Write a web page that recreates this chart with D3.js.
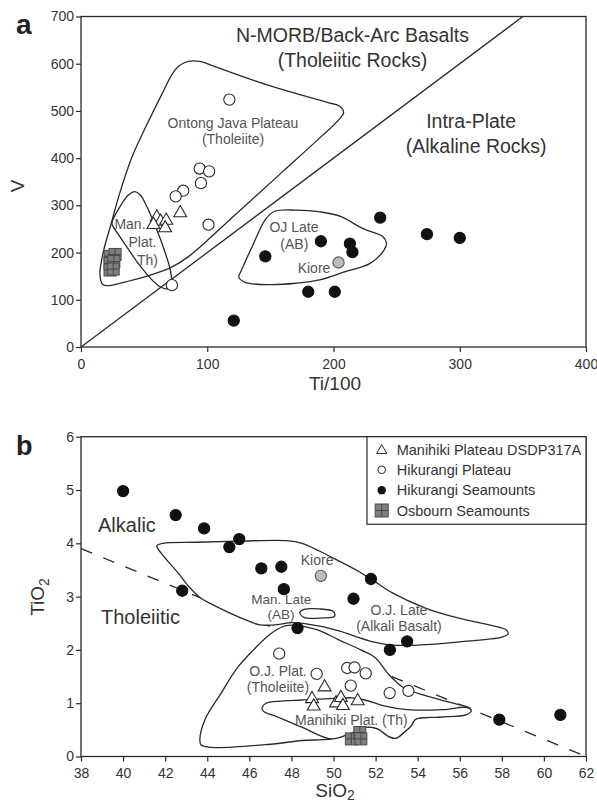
<!DOCTYPE html>
<html><head><meta charset="utf-8">
<script src="https://cdn.jsdelivr.net/npm/d3@7"></script>
<style>
body{margin:0;background:#fff;}
svg text{font-family:"Liberation Sans",Arial,Helvetica,sans-serif;}
</style></head><body>
<svg id="c" width="597" height="805"></svg>
<script>
// ---------- Panel a data (Ti/100 vs V) ----------
const aTicksX = [0,100,200,300,400];
const aTicksY = [0,100,200,300,400,500,600,700];
const aPlateau = [[117.5,524],[94,378],[101.5,372],[95,347],[81,331],[75,319],[101,259],[72,131]];
const aManihiki = [[60,277],[63,268],[67.5,270],[78.6,286],[57.4,261],[66.7,254]];
const aSeamounts = [[121,56],[146,192],[190,224],[213,219],[215,201],[237,274],[180,117],[201,117],[274,239],[300,231]];
const aOsbourn = [[23,192],[27,196],[23,177],[26,181],[23,163],[25.5,165]];
const aKiore = [[204,179]];
const aDiscrim = [[0,0],[350,700]];
const aFieldOJP = [[15,155],[17,133],[22,130],[40,141],[58,155],[71,168],[86,193],[120,275],[160,372],[190,445],[203,478],[208,496],[205,510],[195,518],[150,553],[110,590],[94,605],[85,605],[78,596],[72,577],[64,535],[52,470],[40,400],[30,320],[24,262],[18,205]];
const aFieldMan = [[42.5,329],[38,323],[31,298],[24.5,262],[25.5,255],[33,225],[44,182],[57,140],[63,127],[68,123],[71.5,130],[71,160],[66,205],[59,255],[52,298],[47,322]];
const aFieldOJLate = [[153,287],[170,290],[190,286],[205,277],[224,250],[239,234],[242,220],[240,205],[229,177],[210,160],[189,142],[170,135],[150,132],[130,137],[125,148],[127,162],[136,215],[146,270]];

// ---------- Panel b data (SiO2 vs TiO2) ----------
const bTicksX = [38,40,42,44,46,48,50,52,54,56,58,60,62];
const bTicksY = [0,1,2,3,4,5,6];
const bManihiki = [[49.58,1.32],[48.98,1.1],[49.06,0.96],[50.12,1.02],[50.35,1.12],[50.45,0.97],[51.15,1.06]];
const bPlateau = [[47.42,1.93],[49.2,1.55],[50.65,1.66],[51.0,1.67],[51.53,1.56],[50.82,1.33],[52.67,1.19],[53.56,1.23]];
const bSeamounts = [[40.0,4.98],[42.5,4.53],[43.85,4.28],[45.05,3.93],[45.52,4.08],[46.57,3.53],[47.52,3.56],[47.64,3.14],[42.81,3.11],[50.95,2.96],[51.78,3.33],[48.29,2.41],[52.68,2.0],[53.5,2.16],[57.88,0.69],[60.78,0.78]];
const bOsbourn = [[50.85,0.33],[51.25,0.45],[51.3,0.33]];
const bKiore = [[49.4,3.39]];
const bDivide = [[38,3.9],[62,0]];
const bFieldOJLate = [[41.6,3.95],[41.9,4.0],[43.5,4.02],[45.5,4.04],[47.8,4.05],[48.5,4.0],[49.3,3.86],[50.2,3.68],[51.2,3.47],[51.9,3.3],[52.8,3.07],[54.4,2.78],[56.0,2.59],[57.5,2.46],[58.2,2.38],[58.3,2.3],[58.0,2.24],[56.0,2.15],[54.0,2.09],[52.8,2.09],[52.0,2.14],[51.0,2.26],[50.3,2.35],[49.4,2.44],[48.1,2.51],[47.2,2.47],[46.5,2.47],[45.6,2.6],[44.3,2.84],[43.7,2.97],[43.1,3.2],[42.6,3.45],[41.8,3.82]];
const bFieldOJPlat = [[48.2,2.46],[49.2,2.38],[50.3,2.18],[51.3,2.0],[52.0,1.85],[52.6,1.55],[53.3,1.3],[54.3,1.15],[55.3,1.04],[56.2,0.95],[56.5,0.9],[56.3,0.8],[55.0,0.74],[53.9,0.7],[53.7,0.58],[53.4,0.47],[52.95,0.34],[52.6,0.38],[52.1,0.52],[51.6,0.55],[50.9,0.45],[49.9,0.33],[48.5,0.3],[47.0,0.23],[44.2,0.17],[43.7,0.22],[43.65,0.33],[43.9,0.7],[44.6,1.15],[45.4,1.65],[46.2,2.0],[47.0,2.3],[47.7,2.45]];
const bFieldManihiki = [[46.6,0.9],[46.8,1.0],[47.5,1.04],[48.5,1.06],[50.0,1.09],[50.9,1.1],[51.5,1.06],[52.4,0.95],[53.5,0.88],[55.2,0.88],[56.3,0.92],[56.55,0.86],[56.3,0.78],[55.0,0.74],[53.9,0.7],[53.7,0.58],[53.4,0.47],[52.95,0.34],[52.6,0.38],[52.1,0.52],[51.6,0.55],[50.9,0.45],[49.9,0.33],[48.5,0.55],[47.3,0.75],[46.7,0.84]];
const bFieldManLate = [[48.4,2.7],[48.6,2.76],[49.3,2.77],[50.0,2.72],[50.05,2.63],[49.5,2.6],[48.6,2.61]];

const legendLabels = ["Manihiki Plateau DSDP317A","Hikurangi Plateau","Hikurangi Seamounts","Osbourn Seamounts"];

// ---------- drawing ----------
const svg = d3.select("#c");
const ink = "#2a2a2a", txt = "#333", lab = "#555";

const xA = d3.scaleLinear().domain([0,400]).range([81,586]);
const yA = d3.scaleLinear().domain([0,700]).range([347,16.5]);
const xB = d3.scaleLinear().domain([38,62]).range([81,586]);
const yB = d3.scaleLinear().domain([0,6]).range([756.5,436.7]);

function frame(x,y,tx,ty){
  const g = svg.append("g");
  const ax = g.append("g").attr("transform",`translate(0,${y.range()[0]})`)
    .call(d3.axisBottom(x).tickValues(tx).tickSize(5).tickSizeOuter(0).tickPadding(7).tickFormat(d3.format("d")));
  const ay = g.append("g").attr("transform",`translate(${x.range()[0]},0)`)
    .call(d3.axisLeft(y).tickValues(ty).tickSize(5).tickSizeOuter(0).tickPadding(2).tickFormat(d3.format("d")));
  [ax,ay].forEach(a=>{
    a.select(".domain").remove();
    a.selectAll("line").attr("stroke",ink).attr("stroke-width",1.2);
    a.selectAll("text").attr("fill",txt).style("font-size","14px").style("font-family",'"Liberation Sans",Arial,sans-serif');
  });
  g.append("rect").attr("x",x.range()[0]).attr("y",y.range()[1])
    .attr("width",x.range()[1]-x.range()[0]).attr("height",y.range()[0]-y.range()[1])
    .attr("fill","none").attr("stroke",ink).attr("stroke-width",1.3);
}

function field(x,y,pts,fill){
  const ln = d3.line().x(d=>x(d[0])).y(d=>y(d[1])).curve(d3.curveCatmullRomClosed.alpha(0.5));
  svg.append("path").attr("d",ln(pts)).attr("fill",fill).attr("stroke",ink).attr("stroke-width",1.3);
}

function label(x,y,xd,yd,t,size,color,anchor){
  svg.append("text").attr("x",x(xd)).attr("y",y(yd)).attr("text-anchor",anchor||"middle")
    .attr("fill",color).style("font-size",size+"px").text(t);
}

const tri = d3.symbol().type(d3.symbolTriangle).size(72);
function triangles(x,y,data){
  svg.append("g").selectAll("path").data(data).join("path")
    .attr("d",tri).attr("transform",d=>`translate(${x(d[0])},${y(d[1])+1})`)
    .attr("fill","#fff").attr("stroke",ink).attr("stroke-width",1.1);
}
function circles(x,y,data,fill,stroke){
  svg.append("g").selectAll("circle").data(data).join("circle")
    .attr("cx",d=>x(d[0])).attr("cy",d=>y(d[1])).attr("r",5.6)
    .attr("fill",fill).attr("stroke",stroke).attr("stroke-width",1.1);
}
function squares(x,y,data,s){
  const g = svg.append("g");
  data.forEach(d=>{
    const cx=x(d[0]), cy=y(d[1]);
    g.append("rect").attr("x",cx-s/2).attr("y",cy-s/2).attr("width",s).attr("height",s)
      .attr("fill","#7f7f7f").attr("stroke","#4a4a4a").attr("stroke-width",1);
    g.append("path").attr("d",`M${cx-s/2},${cy}H${cx+s/2}M${cx},${cy-s/2}V${cy+s/2}`)
      .attr("stroke","#4a4a4a").attr("stroke-width",1);
  });
}

// ===== Panel a =====
frame(xA,yA,aTicksX,aTicksY);
field(xA,yA,aFieldOJP,"none");
field(xA,yA,aFieldMan,"none");
field(xA,yA,aFieldOJLate,"none");
svg.append("path").attr("d",d3.line().x(d=>xA(d[0])).y(d=>yA(d[1]))(aDiscrim))
  .attr("stroke",ink).attr("stroke-width",1.3).attr("fill","none");

label(xA,yA,215,646,"N-MORB/Back-Arc Basalts",19.5,txt);
label(xA,yA,215,592,"(Tholeiitic Rocks)",19.5,txt);
label(xA,yA,309,464,"Intra-Plate",19.5,txt);
label(xA,yA,313,410,"(Alkaline Rocks)",19.5,txt);
label(xA,yA,120.4,464,"Ontong Java Plateau",14,lab);
label(xA,yA,120.4,430,"(Tholeiite)",14,lab);
label(xA,yA,38.8,250,"Man.",14,lab);
label(xA,yA,48.7,212,"Plat.",14,lab);
label(xA,yA,52.7,174,"Th)",14,lab);
label(xA,yA,168.7,243.6,"OJ Late",14,lab);
label(xA,yA,169,207.6,"(AB)",14,lab);
label(xA,yA,197.5,157,"Kiore",14,lab,"end");

squares(xA,yA,aOsbourn,12);
triangles(xA,yA,aManihiki);
circles(xA,yA,aPlateau,"#fff",ink);
circles(xA,yA,aSeamounts,"#111","#111");
circles(xA,yA,aKiore,"#bdbdbd","#555");

svg.append("text").attr("x",16).attr("y",34).attr("fill","#222").style("font-size","28px").style("font-weight","bold").text("a");
svg.append("text").attr("transform","translate(24,186) rotate(-90)").attr("text-anchor","middle")
  .attr("fill",txt).style("font-size","19px").text("V");
svg.append("text").attr("x",335).attr("y",390).attr("text-anchor","middle")
  .attr("fill",txt).style("font-size","19px").text("Ti/100");

// ===== Panel b =====
frame(xB,yB,bTicksX,bTicksY);
svg.append("path").attr("d",d3.line().x(d=>xB(d[0])).y(d=>yB(d[1]))(bDivide))
  .attr("stroke",ink).attr("stroke-width",1.3).attr("fill","none").attr("stroke-dasharray","12,12");
field(xB,yB,bFieldOJLate,"#fff");
field(xB,yB,bFieldOJPlat,"#fff");
field(xB,yB,bFieldManihiki,"#fff");
field(xB,yB,bFieldManLate,"#fff");

label(xB,yB,38.81,4.22,"Alkalic",20,txt,"start");
label(xB,yB,38.95,2.49,"Tholeiitic",20,txt,"start");
label(xB,yB,49.22,3.59,"Kiore",14,lab);
label(xB,yB,47.52,2.86,"Man. Late",13.5,lab);
label(xB,yB,47.5,2.58,"(AB)",13.5,lab);
label(xB,yB,53.11,2.65,"O.J. Late",14,lab);
label(xB,yB,53.11,2.35,"(Alkali Basalt)",14,lab);
label(xB,yB,47.36,1.51,"O.J. Plat.",14,lab);
label(xB,yB,47.36,1.21,"(Tholeiite)",14,lab);
label(xB,yB,50.85,0.59,"Manihiki Plat. (Th)",14,lab);

squares(xB,yB,bOsbourn,12);
triangles(xB,yB,bManihiki);
circles(xB,yB,bPlateau,"#fff",ink);
circles(xB,yB,bSeamounts,"#111","#111");
circles(xB,yB,bKiore,"#bdbdbd","#555");

svg.append("text").attr("x",16).attr("y",455).attr("fill","#222").style("font-size","27px").style("font-weight","bold").text("b");
const ty = svg.append("text").attr("transform","translate(44,597) rotate(-90)").attr("text-anchor","middle")
  .attr("fill",txt).style("font-size","19px");
ty.append("tspan").text("TiO");
ty.append("tspan").attr("dy",5).style("font-size","14px").text("2");
const tx = svg.append("text").attr("x",335).attr("y",797).attr("text-anchor","middle")
  .attr("fill",txt).style("font-size","19px");
tx.append("tspan").text("SiO");
tx.append("tspan").attr("dy",3).style("font-size","14px").text("2");

// legend
const lg = svg.append("g");
const lx0 = 367, ly0 = yB.range()[1], lx1 = xB.range()[1], ly1 = 524.3;
lg.append("rect").attr("x",lx0).attr("y",ly0).attr("width",lx1-lx0).attr("height",ly1-ly0)
  .attr("fill","#fff").attr("stroke",ink).attr("stroke-width",1.2);
const rowY = d3.scaleLinear().domain([0,3]).range([449.5,510.5]);
legendLabels.forEach((t,i)=>{
  const cy = rowY(i), cx = 381.7;
  if(i===0) lg.append("path").attr("d",d3.symbol().type(d3.symbolTriangle).size(45)()).attr("transform",`translate(${cx},${cy+1})`).attr("fill","#fff").attr("stroke",ink).attr("stroke-width",1);
  if(i===1) lg.append("circle").attr("cx",cx).attr("cy",cy).attr("r",3.8).attr("fill","#fff").attr("stroke",ink).attr("stroke-width",1);
  if(i===2) lg.append("circle").attr("cx",cx).attr("cy",cy).attr("r",4.2).attr("fill","#111");
  if(i===3){
    const s=13;
    lg.append("rect").attr("x",cx-s/2).attr("y",cy-s/2).attr("width",s).attr("height",s).attr("fill","#7f7f7f").attr("stroke","#4a4a4a");
    lg.append("path").attr("d",`M${cx-s/2},${cy}H${cx+s/2}M${cx},${cy-s/2}V${cy+s/2}`).attr("stroke","#4a4a4a");
  }
  lg.append("text").attr("x",396.7).attr("y",cy).attr("dy","0.35em").attr("fill",txt).style("font-size","14.5px").text(t);
});
</script></body></html>
